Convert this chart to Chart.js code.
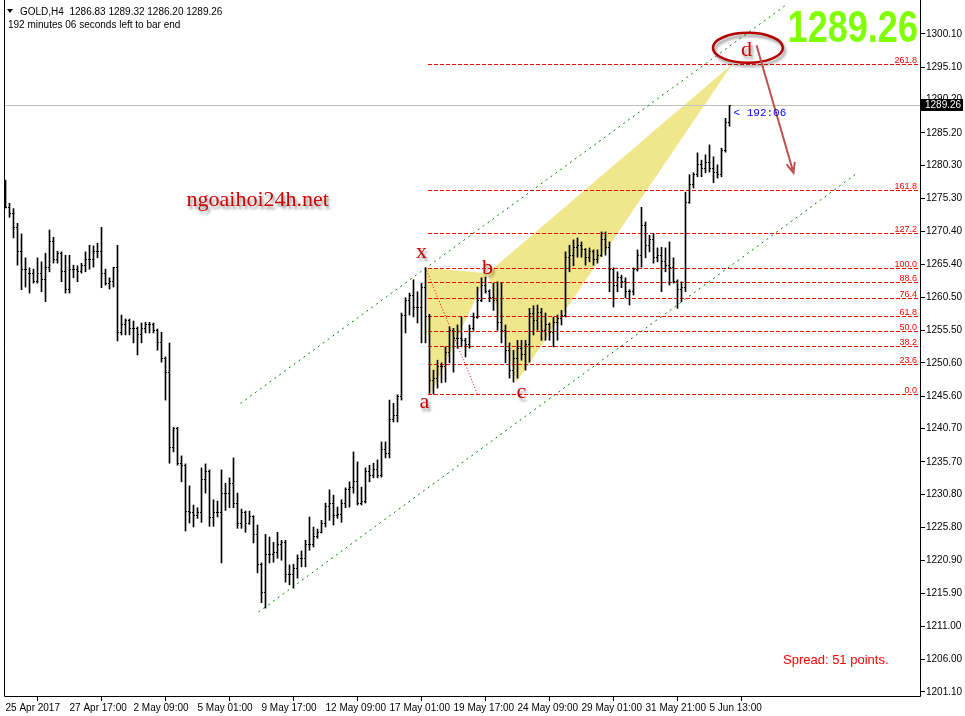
<!DOCTYPE html>
<html lang="en">
<head>
<meta charset="UTF-8">
<title>GOLD,H4</title>
<script src="https://cdn.jsdelivr.net/npm/chart.js"></script>
<style>
  body { margin: 0; background: #fff; }
  #wrap { width: 965px; height: 716px; }
</style>
</head>
<body>
<div id="wrap"><canvas id="goldChart" width="965" height="716"></canvas></div>
<script>
// H4 bars, 25 Apr 2017 01:00 .. 6 Jun 2017 09:00
const opens = [1275.9,1274.0,1273.0,1271.0,1267.4,1264.7,1264.1,1264.1,1262.8,1264.0,
  1263.2,1264.9,1268.8,1266.2,1267.1,1264.4,1261.7,1264.7,1264.7,1264.3,
  1265.2,1266.2,1266.2,1267.3,1267.3,1264.0,1262.6,1262.8,1264.9,1255.2,
  1256.4,1257.0,1255.7,1255.7,1254.9,1255.7,1256.3,1256.3,1255.4,1253.7,
  1251.3,1249.2,1237.8,1240.7,1235.4,1235.2,1228.3,1228.1,1227.7,1228.1,
  1233.0,1234.2,1227.4,1228.1,1228.1,1231.0,1231.0,1232.5,1229.5,1226.5,
  1228.1,1226.5,1227.5,1224.8,1220.2,1216.0,1221.7,1221.7,1222.0,1223.2,
  1223.6,1218.7,1218.7,1219.7,1221.2,1221.2,1223.2,1223.2,1224.4,1225.1,
  1226.5,1229.0,1229.5,1227.7,1227.8,1229.5,1231.6,1231.9,1232.7,1229.5,
  1229.8,1234.3,1233.7,1234.6,1233.7,1237.6,1236.9,1242.1,1242.7,1245.6,
  1257.8,1260.0,1260.8,1259.0,1259.0,1262.0,1257.6,1248.0,1248.3,1250.1,
  1250.1,1252.2,1255.5,1254.3,1254.3,1254.0,1253.3,1255.8,1257.5,1260.0,
  1262.3,1261.3,1260.5,1260.0,1256.7,1255.5,1252.5,1249.5,1251.3,1252.8,
  1251.8,1253.3,1258.1,1257.0,1258.2,1255.5,1256.3,1255.1,1256.7,1257.3,
  1257.8,1266.4,1266.8,1267.9,1268.3,1267.6,1266.4,1267.3,1266.1,1266.8,
  1269.1,1267.9,1264.6,1262.3,1263.4,1262.8,1261.3,1261.3,1264.6,1266.8,
  1271.3,1268.3,1269.1,1266.4,1266.8,1265.8,1265.3,1264.9,1262.8,1261.6,
  1261.9,1274.8,1277.4,1278.9,1280.4,1279.9,1280.8,1279.9,1279.3,1278.9,
  1282.6,1286.83];
const highs = [1278.1,1274.6,1273.8,1271.6,1270.0,1266.4,1264.9,1264.7,1266.4,1265.8,
  1267.1,1270.6,1269.5,1267.4,1267.3,1266.8,1266.8,1265.3,1265.2,1265.6,
  1267.3,1268.3,1268.2,1268.6,1271.0,1264.7,1263.4,1265.0,1268.3,1257.8,
  1257.2,1257.2,1256.9,1256.0,1256.6,1256.7,1256.7,1256.6,1255.7,1255.2,
  1251.5,1253.6,1240.9,1240.9,1236.6,1235.4,1232.1,1229.2,1228.8,1234.8,
  1235.4,1234.5,1230.0,1229.8,1234.5,1232.5,1233.3,1236.3,1231.0,1228.6,
  1228.3,1228.3,1227.6,1226.2,1220.5,1224.8,1224.4,1223.6,1225.1,1223.9,
  1223.9,1220.2,1220.3,1221.7,1222.3,1223.9,1227.4,1225.9,1225.6,1226.9,
  1229.5,1231.5,1230.7,1228.9,1230.0,1231.8,1232.7,1237.2,1235.7,1231.9,
  1234.8,1235.2,1235.5,1236.0,1238.7,1238.7,1245.0,1244.5,1245.8,1258.1,
  1260.4,1261.1,1263.1,1261.3,1262.6,1264.9,1257.9,1249.5,1251.0,1250.6,
  1253.0,1256.0,1255.8,1256.3,1257.5,1254.3,1256.3,1258.1,1262.0,1263.4,
  1263.5,1261.6,1262.6,1262.8,1262.6,1256.3,1253.6,1252.5,1254.0,1254.0,
  1254.0,1258.8,1259.2,1259.3,1258.8,1258.1,1256.6,1257.5,1257.8,1258.5,
  1267.3,1268.3,1269.1,1269.4,1268.8,1267.8,1267.9,1267.6,1267.6,1270.3,
  1270.3,1268.8,1264.9,1264.3,1263.8,1263.4,1261.6,1264.9,1267.6,1274.0,
  1271.8,1269.8,1270.1,1267.9,1268.0,1267.9,1268.8,1266.4,1263.1,1262.8,
  1276.3,1278.9,1279.2,1282.2,1281.1,1281.9,1283.4,1281.6,1280.4,1282.9,
  1287.4,1289.32];
const lows = [1273.9,1272.5,1269.4,1265.3,1261.6,1262.0,1261.1,1262.6,1262.6,1261.3,
  1259.8,1264.3,1265.6,1265.6,1262.8,1261.1,1261.1,1263.4,1262.8,1264.1,
  1264.3,1264.7,1265.0,1266.4,1261.9,1262.3,1261.7,1262.0,1253.9,1254.8,
  1254.8,1254.8,1253.6,1251.8,1253.6,1255.1,1255.1,1255.1,1252.5,1250.7,
  1245.0,1235.5,1237.2,1235.2,1232.7,1225.3,1226.5,1225.9,1227.2,1226.6,
  1231.0,1226.0,1226.0,1227.4,1220.5,1228.4,1228.8,1228.8,1225.7,1225.7,
  1225.1,1226.3,1223.5,1219.0,1214.5,1213.7,1220.5,1220.6,1221.2,1220.9,
  1217.6,1217.2,1216.7,1218.2,1219.9,1219.9,1222.4,1222.9,1224.2,1225.0,
  1225.9,1226.9,1226.2,1227.2,1226.6,1228.8,1228.9,1231.0,1229.2,1229.2,
  1229.5,1232.7,1233.3,1233.3,1233.4,1236.3,1236.3,1241.7,1241.7,1245.0,
  1255.1,1257.8,1257.5,1256.6,1253.6,1253.6,1246.0,1245.9,1246.8,1247.6,
  1247.7,1250.6,1249.2,1252.8,1253.0,1251.5,1252.8,1255.5,1257.3,1259.8,
  1261.1,1259.8,1258.5,1255.5,1253.6,1250.6,1248.3,1247.7,1248.3,1251.0,
  1249.5,1250.7,1254.8,1255.5,1254.0,1254.0,1254.0,1253.0,1254.0,1256.3,
  1257.5,1264.3,1265.2,1266.5,1266.5,1265.3,1265.8,1265.3,1265.6,1266.6,
  1266.8,1261.3,1259.0,1261.3,1261.9,1260.4,1259.3,1260.8,1264.4,1265.0,
  1266.4,1267.3,1265.6,1265.8,1261.3,1264.3,1262.3,1262.6,1258.8,1259.8,
  1261.3,1274.6,1276.9,1278.6,1278.6,1279.2,1279.3,1277.7,1278.4,1278.6,
  1282.3,1286.20];
const closes = [1274.0,1273.0,1271.0,1267.4,1264.7,1264.7,1264.1,1262.8,1264.0,1263.2,
  1264.9,1268.8,1266.2,1267.1,1264.4,1261.7,1264.7,1264.7,1264.3,1265.2,
  1266.2,1266.2,1267.3,1267.3,1264.0,1262.6,1262.8,1264.9,1255.2,1256.4,
  1257.0,1255.7,1255.7,1254.9,1255.7,1256.3,1256.3,1255.4,1253.7,1251.3,
  1249.2,1237.8,1240.7,1235.4,1235.2,1228.3,1228.1,1227.7,1228.1,1233.0,
  1234.2,1227.4,1228.1,1228.1,1231.0,1231.0,1232.5,1229.5,1226.5,1228.1,
  1226.5,1227.5,1224.8,1220.2,1216.0,1221.7,1221.7,1222.0,1223.2,1223.6,
  1218.7,1218.7,1219.7,1221.2,1221.2,1223.2,1223.2,1224.4,1225.1,1226.5,
  1229.0,1229.5,1227.7,1227.8,1229.5,1231.6,1231.9,1232.7,1229.5,1229.8,
  1234.3,1233.7,1234.6,1233.7,1237.6,1236.9,1242.1,1242.7,1245.6,1257.8,
  1260.0,1260.8,1259.0,1259.0,1262.0,1257.6,1248.0,1248.3,1250.1,1250.1,
  1252.2,1255.5,1254.3,1254.3,1254.0,1253.3,1255.8,1257.5,1260.0,1262.3,
  1261.3,1260.5,1260.0,1256.7,1255.5,1252.5,1249.5,1251.3,1252.8,1251.8,
  1253.3,1258.1,1257.0,1258.2,1255.5,1256.3,1255.1,1256.7,1257.3,1257.8,
  1266.4,1266.8,1267.9,1268.3,1267.6,1266.4,1267.3,1266.1,1266.8,1269.1,
  1267.9,1264.6,1262.3,1263.4,1262.8,1261.3,1261.3,1264.6,1266.8,1271.3,
  1268.3,1269.1,1266.4,1266.8,1265.8,1265.3,1264.9,1262.8,1261.6,1261.9,
  1274.8,1277.4,1278.9,1280.4,1279.9,1280.8,1279.9,1279.3,1278.9,1282.6,
  1286.8,1289.26];

// time axis: one label every 16 bars
const xTickIndex = [0, 16, 32, 48, 64, 80, 96, 112, 128, 144, 160, 176];
const xTickLabels = ['25 Apr 2017', '27 Apr 17:00', '2 May 09:00', '5 May 01:00', '9 May 17:00',
  '12 May 09:00', '17 May 01:00', '19 May 17:00', '24 May 09:00', '29 May 01:00',
  '31 May 21:00', '5 Jun 13:00'];
const yTicks = [1300.10, 1295.10, 1290.20, 1285.20, 1280.30, 1275.30, 1270.40, 1265.40,
  1260.50, 1255.50, 1250.60, 1245.60, 1240.70, 1235.70, 1230.80, 1225.80, 1220.90,
  1215.90, 1211.00, 1206.00, 1201.10];

// fibonacci retracement X -> a
const fibLevels = [0, 23.6, 38.2, 50, 61.8, 76.4, 88.6, 100, 127.2, 161.8, 261.8];
const fibLow = 1245.9;
const fibHigh = 1264.9;
const fibIdx = [105, 118];

// XABCD pattern points (bar index, price)
const patternNames = ['x', 'a', 'b', 'c', 'd'];
const patternIdx = [105, 106.3, 120.5, 127.75, 181.75];
const patternPrice = [1264.9, 1245.8, 1264.1, 1247.7, 1295.6];

// channel lines [index, price]
const channelUpper = [[58.75, 1244.5], [195, 1304.4]];
const channelLower = [[63.25, 1213.1], [213.25, 1279.3]];

const bid = closes[closes.length - 1];
const xMin = -0.375, xMax = 228.875;
const yMin = 1200.32, yMax = 1304.75;
const uiFont = 'Liberation Sans';

const datasets = [{
  type: 'bar',
  data: highs.map((h, i) => ({ x: i, y: [lows[i], h] })),
  backgroundColor: '#000',
  barThickness: 1,
  borderWidth: 0,
  order: 0
}];
[channelUpper, channelLower].forEach(ch => {
  datasets.push({
    type: 'line',
    data: ch.map(p => ({ x: p[0], y: p[1] })),
    borderColor: '#008000', borderWidth: 1, borderDash: [2, 4], pointRadius: 0, order: 2
  });
});

function fibPrice(r) { return fibLow + (fibHigh - fibLow) * r / 100; }

// yellow pattern triangles and fib levels, behind the bars
const background = {
  id: 'background',
  beforeDatasetsDraw(chart) {
    const { ctx, chartArea: a, scales: { x, y } } = chart;
    const pt = k => [x.getPixelForValue(patternIdx[k]), y.getPixelForValue(patternPrice[k])];
    ctx.save();
    ctx.fillStyle = '#f0e68c';
    [[0, 1, 2], [2, 3, 4]].forEach(tri => {
      ctx.beginPath();
      tri.forEach((k, j) => { const [px, py] = pt(k); j ? ctx.lineTo(px, py) : ctx.moveTo(px, py); });
      ctx.closePath();
      ctx.fill();
    });

    // bid line
    ctx.strokeStyle = '#c0c0c0';
    ctx.lineWidth = 1;
    const byy = Math.round(y.getPixelForValue(bid)) - 0.5;
    ctx.beginPath();
    ctx.moveTo(a.left + 1, byy);
    ctx.lineTo(a.right, byy);
    ctx.stroke();

    // fib levels
    ctx.strokeStyle = '#ff0000';
    ctx.setLineDash([4, 2]);
    const fx = Math.round(x.getPixelForValue(fibIdx[0])) + 2;
    fibLevels.forEach(r => {
      const py = Math.round(y.getPixelForValue(fibPrice(r))) + 0.5;
      ctx.beginPath();
      ctx.moveTo(fx, py);
      ctx.lineTo(a.right - 1, py);
      ctx.stroke();
    });
    ctx.setLineDash([1, 2]);
    ctx.beginPath();
    ctx.moveTo(x.getPixelForValue(fibIdx[0]), y.getPixelForValue(fibHigh));
    ctx.lineTo(x.getPixelForValue(fibIdx[1]), y.getPixelForValue(fibLow));
    ctx.stroke();
    ctx.restore();
  }
};

// open / close ticks of the OHLC bars
const ohlcTicks = {
  id: 'ohlcTicks',
  afterDatasetsDraw(chart) {
    const { ctx, scales: { x, y } } = chart;
    ctx.save();
    ctx.fillStyle = '#000';
    opens.forEach((o, i) => {
      const px = x.getPixelForValue(i);
      ctx.fillRect(px - 1.5, Math.floor(y.getPixelForValue(o)), 1, 1);
      ctx.fillRect(px + 0.5, Math.floor(y.getPixelForValue(closes[i])), 1, 1);
    });
    ctx.restore();
  }
};

function shadowText(ctx, txt, px, py) {
  ctx.save();
  ctx.shadowColor = 'rgba(0,0,0,0.45)';
  ctx.shadowBlur = 3;
  ctx.shadowOffsetX = 2;
  ctx.shadowOffsetY = 3;
  ctx.fillText(txt, px, py);
  ctx.restore();
}

const overlay = {
  id: 'overlay',
  afterDraw(chart) {
    const { ctx, chartArea: a, scales: { x, y } } = chart;
    ctx.save();
    // frame: left, right, bottom
    ctx.strokeStyle = '#000';
    ctx.lineWidth = 1;
    ctx.beginPath();
    ctx.moveTo(a.left + 0.5, 0);
    ctx.lineTo(a.left + 0.5, a.bottom - 0.5);
    ctx.lineTo(a.right - 0.5, a.bottom - 0.5);
    ctx.lineTo(a.right - 0.5, 0);
    ctx.stroke();

    // fib labels
    ctx.fillStyle = '#ff0000';
    ctx.font = '9px ' + uiFont;
    ctx.textAlign = 'right';
    ctx.textBaseline = 'alphabetic';
    fibLevels.forEach(r => {
      ctx.fillText(r.toFixed(1), a.right - 4, Math.round(y.getPixelForValue(fibPrice(r))) - 1);
    });

    // pattern letters
    ctx.textAlign = 'center';
    ctx.fillStyle = '#cc0000';
    ctx.font = '22px "Liberation Serif"';
    const lblOff = [[-1, 1266.4], [-1.55, 1243.8], [0, 1264.0], [1.25, 1245.3], [3.5, 1296.8]];
    patternNames.forEach((n, k) => {
      shadowText(ctx, n, x.getPixelForValue(patternIdx[k] + lblOff[k][0]), y.getPixelForValue(lblOff[k][1]));
    });
    ctx.textAlign = 'left';
    shadowText(ctx, 'ngoaihoi24h.net', x.getPixelForValue(45.25), y.getPixelForValue(1274.2));

    // ellipse round d
    const ex = x.getPixelForValue(185.6), ey = y.getPixelForValue(1298.0);
    ctx.save();
    ctx.shadowColor = 'rgba(0,0,0,0.4)';
    ctx.shadowBlur = 3;
    ctx.shadowOffsetX = 2;
    ctx.shadowOffsetY = 3;
    ctx.strokeStyle = '#b40000';
    ctx.lineWidth = 2.5;
    ctx.beginPath();
    ctx.ellipse(ex, ey, 35, 15, 0, 0, Math.PI * 2);
    ctx.stroke();
    ctx.restore();

    // arrow
    const ax0 = x.getPixelForValue(187.75), ay0 = y.getPixelForValue(1298.4);
    const ax1 = x.getPixelForValue(197), ay1 = y.getPixelForValue(1279.2);
    ctx.strokeStyle = '#c0504d';
    ctx.lineWidth = 2;
    ctx.beginPath();
    ctx.moveTo(ax0, ay0);
    ctx.lineTo(ax1, ay1);
    const ang = Math.atan2(ay1 - ay0, ax1 - ax0);
    ctx.moveTo(ax1 - 11 * Math.cos(ang - 0.4), ay1 - 11 * Math.sin(ang - 0.4));
    ctx.lineTo(ax1, ay1);
    ctx.lineTo(ax1 - 11 * Math.cos(ang + 0.4), ay1 - 11 * Math.sin(ang + 0.4));
    ctx.stroke();

    // big price
    ctx.save();
    ctx.fillStyle = '#80ff00';
    ctx.font = 'bold 44px ' + uiFont;
    ctx.textAlign = 'right';
    ctx.translate(a.right - 3, 42);
    ctx.scale(0.82, 1);
    ctx.fillText(bid.toFixed(2), 0, 0);
    ctx.restore();

    // bar countdown
    const last = closes.length - 1;
    ctx.fillStyle = '#0000ff';
    ctx.font = '11px "Liberation Mono"';
    ctx.textAlign = 'left';
    ctx.fillText('< 192:06', x.getPixelForValue(last) + 4, y.getPixelForValue(bid) + 10);

    // spread
    ctx.fillStyle = '#ff0000';
    ctx.font = '13px ' + uiFont;
    ctx.fillText('Spread: 51 points.', a.right - 138, a.bottom - 33);

    // header
    ctx.fillStyle = '#000';
    ctx.font = '10px ' + uiFont;
    ctx.beginPath();
    ctx.moveTo(7, 9); ctx.lineTo(13, 9); ctx.lineTo(10, 13); ctx.closePath();
    ctx.fill();
    ctx.fillText('GOLD,H4  ' + [opens[last], highs[last], lows[last], closes[last]].map(v => v.toFixed(2)).join(' '), 20, 15);
    ctx.fillText('192 minutes 06 seconds left to bar end', 8, 28);

    // bid price box
    const by = Math.round(y.getPixelForValue(bid));
    ctx.fillStyle = '#000';
    ctx.fillRect(a.right, by - 7, 42, 12);
    ctx.fillStyle = '#fff';
    ctx.font = '10px ' + uiFont;
    ctx.textBaseline = 'middle';
    ctx.fillText(bid.toFixed(2), a.right + 4, by - 1);
    ctx.restore();
  }
};

new Chart(document.getElementById('goldChart'), {
  type: 'bar',
  data: { datasets },
  options: {
    responsive: false,
    animation: false,
    devicePixelRatio: 1,
    layout: { padding: { left: 4, top: 3, right: 0, bottom: 0 } },
    plugins: { legend: { display: false }, tooltip: { enabled: false } },
    scales: {
      x: {
        type: 'linear', min: xMin, max: xMax, offset: false,
        grid: { drawOnChartArea: false, tickLength: 4, color: '#000' },
        border: { display: false },
        ticks: {
          align: 'start', padding: 1, color: '#000', maxRotation: 0, autoSkip: false,
          font: { family: uiFont, size: 10 },
          callback: v => xTickLabels[xTickIndex.indexOf(v)] || ''
        },
        afterBuildTicks: s => { s.ticks = xTickIndex.map(v => ({ value: v })); },
        afterFit: s => { s.height = 19; s.paddingLeft = 0; s.paddingRight = 0; }
      },
      y: {
        type: 'linear', position: 'right', min: yMin, max: yMax,
        grid: { drawOnChartArea: false, tickLength: 4, color: '#000' },
        border: { display: false },
        ticks: {
          padding: 1, color: '#000', autoSkip: false,
          font: { family: uiFont, size: 10 },
          callback: v => v.toFixed(2)
        },
        afterBuildTicks: s => { s.ticks = yTicks.map(v => ({ value: v })); },
        afterFit: s => { s.width = 44; s.paddingTop = 0; s.paddingBottom = 0; }
      }
    }
  },
  plugins: [background, ohlcTicks, overlay]
});
</script>
</body>
</html>
